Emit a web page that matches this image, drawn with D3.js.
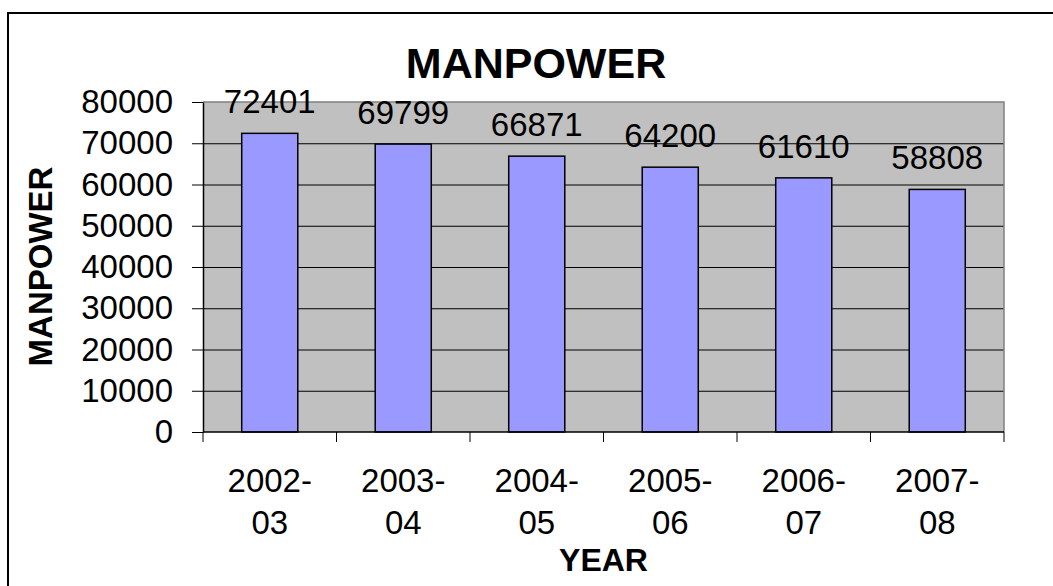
<!DOCTYPE html>
<html>
<head>
<meta charset="utf-8">
<script src="https://cdn.jsdelivr.net/npm/d3@7"></script>
<style>
    body { margin: 0; background: #fff; }
    text { font-family: "Liberation Sans", Arial, sans-serif; fill: #000; }
</style>
</head>
<body>
<div id="chart"></div>
<script>
// chart data
var years = ["2002-03", "2003-04", "2004-05", "2005-06", "2006-07", "2007-08"];
var manpower = [72401, 69799, 66871, 64200, 61610, 58808];
var yTicks = [0, 10000, 20000, 30000, 40000, 50000, 60000, 70000, 80000];

class ManpowerChart {
    constructor(years, values) {
        var self = this;
        self.years = years;
        self.values = values;
        self.width = 1053;
        self.height = 586;
        self.plot = {left: 203, right: 1004, top: 102, bottom: 432};
        self.init();
    }

    init() {
        var self = this;
        var p = self.plot;

        self.svg = d3.select("#chart").append("svg")
            .attr("width", self.width)
            .attr("height", self.height);

        // outer chart border (runs off the bottom / right of the picture)
        self.svg.append("rect")
            .attr("x", 8).attr("y", 13)
            .attr("width", 1200).attr("height", 800)
            .attr("fill", "none")
            .attr("stroke", "#000")
            .attr("stroke-width", 2);

        self.xScale = d3.scaleBand()
            .domain(self.years)
            .range([p.left, p.right]);

        self.yScale = d3.scaleLinear()
            .domain([0, 80000])
            .range([p.bottom, p.top]);

        // plot area background
        self.svg.append("rect")
            .attr("x", p.left).attr("y", p.top)
            .attr("width", p.right - p.left)
            .attr("height", p.bottom - p.top)
            .attr("fill", "#c0c0c0");

        // gridlines
        self.svg.append("g")
            .attr("transform", "translate(" + p.left + ",0)")
            .call(d3.axisLeft(self.yScale)
                .tickValues(yTicks.slice(1, -1))
                .tickSize(-(p.right - p.left))
                .tickFormat(""))
            .call(g => g.select(".domain").remove())
            .selectAll("line").attr("stroke", "#000");

        // gray border top + right
        self.svg.append("path")
            .attr("d", "M" + p.left + "," + p.top + "H" + p.right + "V" + p.bottom)
            .attr("fill", "none")
            .attr("stroke", "#808080")
            .attr("stroke-width", 1.5);

        // bars
        var barW = self.xScale.bandwidth() * 0.42;
        self.svg.selectAll(".bar")
            .data(self.values)
            .enter().append("rect")
            .attr("class", "bar")
            .attr("x", (d, i) => self.xScale(self.years[i]) + (self.xScale.bandwidth() - barW) / 2)
            .attr("y", d => self.yScale(d))
            .attr("width", barW)
            .attr("height", d => p.bottom - self.yScale(d))
            .attr("fill", "#9999ff")
            .attr("stroke", "#000")
            .attr("stroke-width", 1.5);

        // value labels
        self.svg.selectAll(".val")
            .data(self.values)
            .enter().append("text")
            .attr("class", "val")
            .attr("x", (d, i) => self.xScale(self.years[i]) + self.xScale.bandwidth() / 2)
            .attr("y", d => self.yScale(d) - 20)
            .attr("text-anchor", "middle")
            .style("font-size", "33px")
            .text(d => d);

        // y axis
        var yAxis = self.svg.append("g")
            .attr("transform", "translate(" + p.left + ",0)")
            .call(d3.axisLeft(self.yScale)
                .tickValues(yTicks)
                .tickSize(11)
                .tickPadding(19)
                .tickSizeOuter(0)
                .tickFormat(d3.format("d")));
        yAxis.selectAll("line").attr("stroke", "#000");
        yAxis.select(".domain").attr("stroke", "#000").attr("stroke-width", 1.5);
        yAxis.selectAll("text")
            .style("font-size", "33px")
            .style("font-family", "Liberation Sans, Arial, sans-serif")
            .attr("dy", "0.32em");

        // x axis line + ticks at category boundaries
        self.svg.append("line")
            .attr("x1", p.left).attr("x2", p.right)
            .attr("y1", p.bottom).attr("y2", p.bottom)
            .attr("stroke", "#000").attr("stroke-width", 1.5);

        var bounds = self.years.map(d => self.xScale(d)).concat([p.right]);
        self.svg.selectAll(".xtick")
            .data(bounds)
            .enter().append("line")
            .attr("class", "xtick")
            .attr("x1", d => d).attr("x2", d => d)
            .attr("y1", p.bottom).attr("y2", p.bottom + 10)
            .attr("stroke", "#000");

        // category labels, split over two lines
        var cat = self.svg.selectAll(".cat")
            .data(self.years)
            .enter().append("text")
            .attr("class", "cat")
            .attr("text-anchor", "middle")
            .style("font-size", "33px");
        cat.append("tspan")
            .attr("x", d => self.xScale(d) + self.xScale.bandwidth() / 2)
            .attr("y", 492)
            .text(d => d.split("-")[0] + "-");
        cat.append("tspan")
            .attr("x", d => self.xScale(d) + self.xScale.bandwidth() / 2)
            .attr("y", 534)
            .text(d => d.split("-")[1]);

        // titles
        self.svg.append("text")
            .attr("x", 536).attr("y", 78)
            .attr("text-anchor", "middle")
            .style("font-size", "43px")
            .style("font-weight", "bold")
            .text("MANPOWER");

        self.svg.append("text")
            .attr("transform", "translate(51.5,266.5) rotate(-90)")
            .attr("text-anchor", "middle")
            .style("font-size", "33px")
            .style("font-weight", "bold")
            .text("MANPOWER");

        self.svg.append("text")
            .attr("x", (p.left + p.right) / 2).attr("y", 571)
            .attr("text-anchor", "middle")
            .style("font-size", "32px")
            .style("font-weight", "bold")
            .text("YEAR");
    }
}

new ManpowerChart(years, manpower);
</script>
</body>
</html>
